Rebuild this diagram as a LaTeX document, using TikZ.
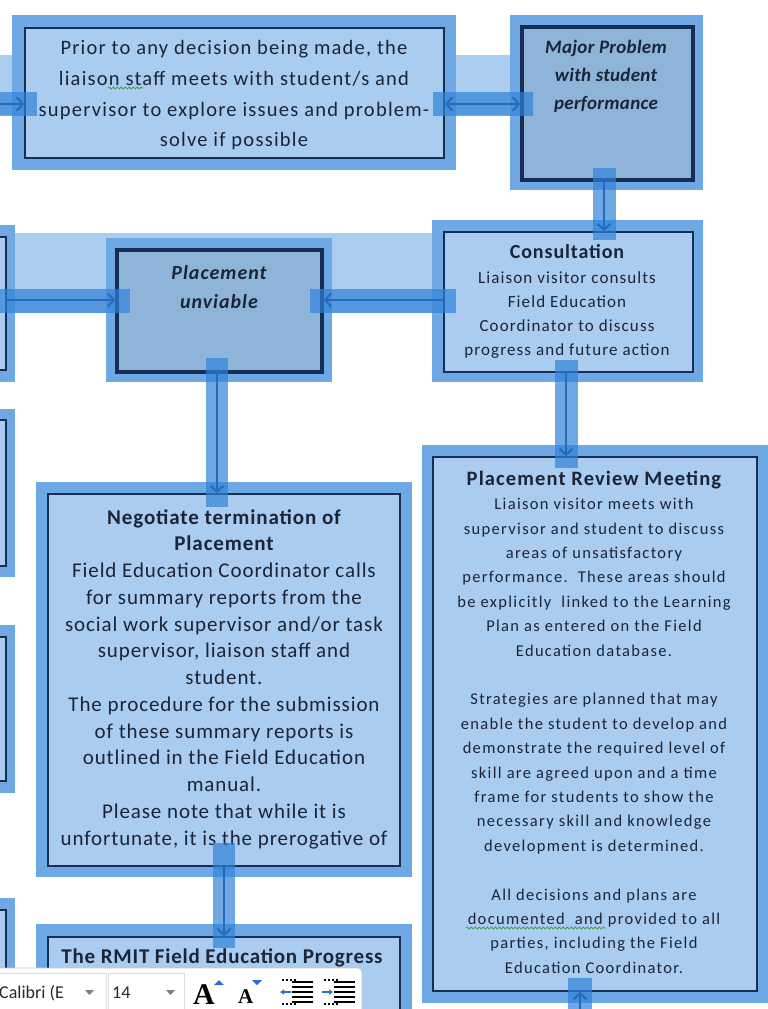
\documentclass[tikz,border=0pt]{standalone}
\usepackage{fontspec}
\setmainfont{Carlito}
\newfontfamily\serifA{Liberation Serif}
\newcommand{\lsp}[1]{\addfontfeature{LetterSpace=#1}}
\usetikzlibrary{arrows.meta,decorations.pathmorphing}
\definecolor{hl}{RGB}{111,169,229}
\definecolor{band}{RGB}{170,205,240}
\definecolor{lightfill}{RGB}{169,204,240}
\definecolor{darkfill}{RGB}{143,180,217}
\definecolor{navy}{RGB}{22,46,84}
\definecolor{arrowc}{RGB}{24,58,108}
\definecolor{selc}{RGB}{46,130,217}
\definecolor{txt}{RGB}{28,36,56}
\definecolor{squig}{RGB}{70,160,80}
\definecolor{tbgray}{RGB}{200,200,200}
\definecolor{iconblue}{RGB}{40,110,210}
\tikzset{
  barb/.tip={Straight Barb[length=6pt,width=13pt,line width=2pt]},
  hlrect/.style={fill=hl},
  bandrect/.style={fill=band},
  lbox/.style={draw=navy, line width=1.8pt, fill=lightfill, inner sep=0pt},
  dbox/.style={draw=navy, line width=3.4pt, fill=darkfill, inner sep=0pt},
  arr/.style={draw=arrowc, line width=2.6pt, -barb},
  darr/.style={draw=arrowc, line width=2.6pt, barb-barb},
  sel/.style={fill=selc, fill opacity=0.69},
  txtnode/.style={align=center, text=txt, inner sep=0pt, anchor=north},
  squiggle/.style={draw=squig, line width=0.8pt, decorate, decoration={snake, segment length=4pt, amplitude=1.1pt}},
}
\begin{document}
\begin{tikzpicture}[x=1pt,y=-1pt]
\useasboundingbox (0,0) rectangle (768,1009);
\clip (0,0) rectangle (768,1009);

% light selection bands
\path[bandrect] (0,55) rectangle (520,115);
\path[bandrect] (0,233) rectangle (440,313);

% outer selection highlights
\path[hlrect] (12,15) rectangle (456,170);
\path[hlrect] (510,15) rectangle (703,190);
\path[hlrect] (432,220) rectangle (703,382);
\path[hlrect] (106,238) rectangle (332,382);
\path[hlrect] (36,482) rectangle (412,877);
\path[hlrect] (422,445) rectangle (780,1003);
\path[hlrect] (36,924) rectangle (412,1040);
\path[hlrect] (-40,225) rectangle (15,382);
\path[hlrect] (-40,409) rectangle (15,577);
\path[hlrect] (-40,625) rectangle (15,793);
\path[hlrect] (-40,898) rectangle (15,1040);

% boxes
\node[lbox, minimum width=419pt, minimum height=130pt] (prior) at (234.5,93) {};
\node[dbox, minimum width=171pt, minimum height=153pt] (major) at (607.5,103.5) {};
\node[lbox, minimum width=249pt, minimum height=140pt] (consult) at (568.5,302) {};
\node[dbox, minimum width=205pt, minimum height=122pt] (unviable) at (219.5,311) {};
\node[lbox, minimum width=352pt, minimum height=372pt] (negot) at (224,680) {};
\node[lbox, minimum width=324pt, minimum height=534pt] (review) at (595,724) {};
\node[lbox, minimum width=352pt, minimum height=120pt] (rmit) at (224,997) {};
\node[lbox, minimum width=40pt, minimum height=133pt] (L1) at (-14,303.5) {};
\node[lbox, minimum width=40pt, minimum height=146pt] (L2) at (-14,493) {};
\node[lbox, minimum width=40pt, minimum height=144pt] (L3) at (-14,709) {};
\node[lbox, minimum width=40pt, minimum height=130pt] (L4) at (-14,975) {};

% texts
\node[txtnode, font=\fontsize{20.5}{30.7}\selectfont\lsp{6}] (tprior) at (234,40.4)
  {Prior to any decision being made, the\\ liaison staff meets with student/s and\\ supervisor to explore issues and problem-\\ solve if possible};
\node[txtnode, font=\fontsize{19}{28}\selectfont\bfseries\itshape\lsp{1.5}] (tmajor) at (606,40.1)
  {Major Problem\\ with student\\ performance};
\node[txtnode, font=\fontsize{17}{24.2}\selectfont\lsp{6.5}] (tconsult) at (567,244.6)
  {{\fontsize{20}{24.2}\selectfont\bfseries\lsp{4.5}Consultation}\\ Liaison visitor consults\\ Field Education\\ Coordinator to discuss\\ progress and future action};
\node[txtnode, font=\fontsize{20}{29}\selectfont\bfseries\itshape\lsp{5}] (tunviable) at (219,265.6)
  {Placement\\ unviable};
\node[txtnode, font=\fontsize{21}{26.75}\selectfont\lsp{4.3}] (tnegot) at (224,509.1)
  {{\bfseries\lsp{4.3}Negotiate termination of}\\ {\bfseries\lsp{4.3}Placement}\\ Field Education Coordinator calls\\ for summary reports from the\\ social work supervisor and/or task\\ supervisor, liaison staff and\\ student.\\ The procedure for the submission\\ of these summary reports is\\ outlined in the Field Education\\ manual.\\ Please note that while it is\\ unfortunate, it is the prerogative of};
\node[txtnode, font=\fontsize{16.5}{24.4}\selectfont\lsp{8}] (treview) at (594,470.6)
  {{\fontsize{20.5}{24.4}\selectfont\bfseries\lsp{5.5}Placement Review Meeting}\\ Liaison visitor meets with\\ supervisor and student to discuss\\ areas of unsatisfactory\\ performance.\ \ These areas should\\ be explicitly\ \ linked to the Learning\\ Plan as entered on the Field\\ Education database.\\ ~\\ Strategies are planned that may\\ enable the student to develop and\\ demonstrate the required level of\\ skill are agreed upon and a time\\ frame for students to show the\\ necessary skill and knowledge\\ development is determined.\\ ~\\ All decisions and plans are\\ documented\ \ and provided to all\\ parties, including the Field\\ Education Coordinator.};
\node[txtnode, font=\fontsize{21}{26}\selectfont\bfseries\lsp{3.8}] (trmit) at (222,949)
  {The RMIT Field Education Progress};

% spelling squiggles
\draw[squiggle] (108,88) -- (143,88);
\draw[squiggle] (466,928) -- (606,928);

% connectors
\coordinate (in1) at (-5,104);
\coordinate (in9) at (580,1015);
\draw[arr] (in1) -- (prior.west |- in1);
\draw[darr] (prior.east |- 0,104) -- (major.west |- 0,104);
\draw[arr] (major.south -| 604,0) -- (consult.north -| 604,0);
\draw[arr] (consult.west |- 0,300) -- (unviable.east |- 0,300);
\draw[arr] (L1.east |- 0,300) -- (unviable.west |- 0,300);
\draw[arr] (unviable.south -| 217,0) -- (negot.north -| 217,0);
\draw[arr] (consult.south -| 566,0) -- (review.north -| 566,0);
\draw[arr] (negot.south -| 224,0) -- (rmit.north -| 224,0);
\draw[arr] (in9) -- (review.south -| in9);

% selection strips along connectors
\path[sel] (0,92) rectangle (37,116);
\path[sel] (433,92) rectangle (533,116);
\path[sel] (593,168) rectangle (616,240);
\path[sel] (310,289) rectangle (456,313);
\path[sel] (0,289) rectangle (130,313);
\path[sel] (206,358) rectangle (228,507);
\path[sel] (555,360) rectangle (578,468);
\path[sel] (213,843) rectangle (235,948);
\path[sel] (568,978) rectangle (592,1009);

% mini toolbar
\path[fill=white, draw=tbgray, line width=0.8pt] (-2,1012) -- (-2,968) [rounded corners=4pt] -- (362,968) [sharp corners] -- (362,1012) -- cycle;
\draw[draw={rgb,255:red,222;green,222;blue,222}, line width=0.8pt] (-2,973) rectangle (106,1012);
\draw[draw={rgb,255:red,222;green,222;blue,222}, line width=0.8pt] (108,973) rectangle (184,1012);
\node[anchor=base west, inner sep=0pt, font=\fontsize{18}{20}\selectfont, text={rgb,255:red,40;green,40;blue,40}] (fontname) at (-1,998) {Calibri (E};
\node[anchor=base west, inner sep=0pt, font=\fontsize{18}{20}\selectfont, text={rgb,255:red,40;green,40;blue,40}] (fontsize) at (112,998) {14};
\fill[gray] (85,990) -- (94,990) -- (89.5,995) -- cycle;
\fill[gray] (166,990) -- (175,990) -- (170.5,995) -- cycle;
\node[anchor=base west, inner sep=0pt, font=\fontsize{30}{30}\serifA\bfseries] (growA) at (193,1004) {A};
\fill[iconblue] (214,985) -- (224,985) -- (219,980) -- cycle;
\node[anchor=base west, inner sep=0pt, font=\fontsize{21}{21}\serifA\bfseries] (shrinkA) at (238,1003) {A};
\fill[iconblue] (252,980) -- (262,980) -- (257,985) -- cycle;
% decrease indent icon
\foreach \yy in {982,987,992,997,1002} {\draw[line width=1.6pt] (292,\yy) -- (313,\yy);}
\foreach \yy in {980,1004} {\draw[line width=1.2pt, dash pattern=on 2pt off 2pt] (282,\yy) -- (296,\yy);}
\draw[iconblue, line width=1.8pt, -{Latex[length=4pt,width=6pt]}] (291,992) -- (280,992);
% increase indent icon
\foreach \yy in {982,987,992,997,1002} {\draw[line width=1.6pt] (334,\yy) -- (355,\yy);}
\foreach \yy in {980,1004} {\draw[line width=1.2pt, dash pattern=on 2pt off 2pt] (324,\yy) -- (338,\yy);}
\draw[iconblue, line width=1.8pt, -{Latex[length=4pt,width=6pt]}] (322,992) -- (333,992);
\end{tikzpicture}
\end{document}
